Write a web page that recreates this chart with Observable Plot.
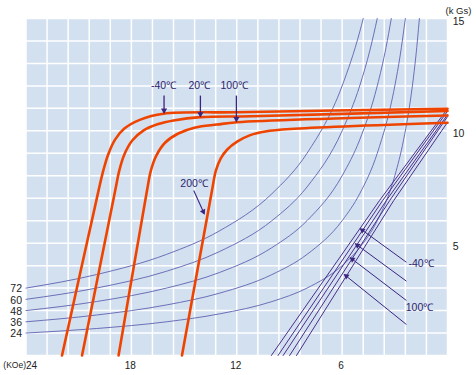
<!DOCTYPE html>
<html><head><meta charset="utf-8">
<script src="https://cdn.jsdelivr.net/npm/d3@7"></script>
<script src="https://cdn.jsdelivr.net/npm/@observablehq/plot@0.6"></script>
<style>body{margin:0;background:#fff} svg{display:block}</style>
</head><body><div id="chart"></div>
<script>
// Demagnetization curves (H in kOe, B in kGs)
const tempLabels = ["-40℃", "20℃", "100℃", "200℃"];
const redM40H = [21.95, 19.87, 19.60, 19.32, 18.92, 18.40, 17.49, 16.17, 12.02, 0];
const redM40B = [0, 7.34, 8.23, 8.95, 9.62, 10.10, 10.50, 10.76, 10.83, 10.98];
const red20H = [20.81, 18.92, 18.69, 18.40, 17.95, 17.32, 16.47, 15.60, 14.07, 11.2, 0];
const red20B = [0, 7.34, 8.23, 8.95, 9.57, 10.01, 10.30, 10.46, 10.61, 10.65, 10.88];
const red100H = [18.73, 17.11, 16.89, 16.58, 16.07, 15.33, 14.36, 13.12, 11.98, 0];
const red100B = [0, 7.34, 8.23, 8.90, 9.48, 9.88, 10.15, 10.28, 10.38, 10.68];
const red200H = [15.12, 13.41, 13.19, 12.91, 12.54, 11.98, 11.23, 10.37, 8.95, 0];
const red200B = [0, 7.34, 8.23, 8.77, 9.17, 9.52, 9.81, 9.97, 10.08, 10.36];

// Straight normal lines near the right
const lineKeys = ["a", "b", "c", "d", "e"];
const lineHc = [10.03, 9.65, 9.36, 8.99, 8.6];
const lineHmid = [3.87, 3.69, 3.48, 3.29, 3.06];
const lineBmid = [6.9, 6.9, 6.9, 6.9, 6.9];
const lineBr = [10.98, 10.87, 10.72, 10.63, 10.38];

// Constant energy-product curves (labels 72..24)
const energyLabels = [72, 60, 48, 36, 24];
const e72H = [24, 20, 16, 13, 10, 8, 6, 5, 4.8];
const e72B = [3, 3.6, 4.5, 5.54, 7.2, 9, 12, 14.4, 15];
const e60H = [24, 20, 16, 13, 10, 8, 6, 5, 4.4, 4];
const e60B = [2.5, 3, 3.75, 4.62, 6, 7.5, 10, 12, 13.64, 15];
const e48H = [24, 20, 16, 13, 10, 8, 6, 5, 4, 3.5, 3.2];
const e48B = [2, 2.4, 3, 3.69, 4.8, 6, 8, 9.6, 12, 13.71, 15];
const e36H = [24, 20, 16, 13, 10, 8, 6, 5, 4, 3, 2.7, 2.4];
const e36B = [1.5, 1.8, 2.25, 2.77, 3.6, 4.5, 6, 7.2, 9, 12, 13.33, 15];
const e24H = [24, 20, 16, 13, 10, 8, 6, 5, 4, 3, 2.5, 2, 1.8, 1.6];
const e24B = [1, 1.2, 1.5, 1.85, 2.4, 3, 4, 4.8, 6, 8, 9.6, 12, 13.33, 15];

// Ticks
const xGridTicks = [0, 1.2, 2.4, 3.6, 4.8, 6, 7.2, 8.4, 9.6, 10.8, 12, 13.2, 14.4, 15.6, 16.8, 18, 19.2, 20.4, 21.6, 22.8, 24];
const yGridTicks = [0, 1, 2, 3, 4, 5, 6, 7, 8, 9, 10, 11, 12, 13, 14, 15];
const xTickLabels = [18, 12, 6];
const yTickLabels = [15, 10, 5];

// Annotations (arrow tail/tip in data coords)
const topArrowLabels = ["-40℃", "20℃", "100℃"];
const topArrowH = [16.14, 14.07, 12.02];
const topArrowB1 = [11.57, 11.57, 11.57];
const topArrowB2 = [10.8, 10.64, 10.42];
const topLabelH = [16.17, 14.13, 12.14];
const topLabelB = [12.02, 12.02, 12.02];

const rightArrowH1 = [2.34, 2.34, 2.34, 2.34];
const rightArrowB1 = [4.15, 3.31, 2.45, 1.38];
const rightArrowH2 = [4.96, 5.24, 5.53, 5.87];
const rightArrowB2 = [5.64, 4.97, 4.35, 3.60];
const rightLabels = ["-40℃", "100℃"];
const rightLabelH = [2.22, 2.38];
const rightLabelB = [4.08, 2.12];

// Build rows
const mk = (Hs, Bs, key) => Hs.map((h, i) => ({H: h, B: Bs[i], k: key}));
const redRows = [
  ...mk(redM40H, redM40B, tempLabels[0]),
  ...mk(red20H, red20B, tempLabels[1]),
  ...mk(red100H, red100B, tempLabels[2]),
  ...mk(red200H, red200B, tempLabels[3])
];
const energyRows = [
  ...mk(e72H, e72B, 72), ...mk(e60H, e60B, 60), ...mk(e48H, e48B, 48),
  ...mk(e36H, e36B, 36), ...mk(e24H, e24B, 24)
];
const lineRows = lineKeys.flatMap((k, i) => [
  {H: lineHc[i], B: 0, k}, {H: lineHmid[i], B: lineBmid[i], k}, {H: 0, B: lineBr[i], k}
]);
const energyLabelRows = energyLabels.map((c, i) => ({c, H: [e72H, e60H, e48H, e36H, e24H][i][0], B: [e72B, e60B, e48B, e36B, e24B][i][0]}));
const topArrows = topArrowLabels.map((t, i) => ({t, H1: topArrowH[i], B1: topArrowB1[i], H2: topArrowH[i], B2: topArrowB2[i], LH: topLabelH[i], LB: topLabelB[i]}));
const rightArrows = rightArrowH1.map((h, i) => ({H1: h, B1: rightArrowB1[i], H2: rightArrowH2[i], B2: rightArrowB2[i]}));
const rightLabelRows = rightLabels.map((t, i) => ({t, H: rightLabelH[i], B: rightLabelB[i]}));
const label200 = [{t: tempLabels[3], H1: 14.45, B1: 7.34, H2: 13.85, B2: 6.31, LH: 14.43, LB: 7.64}];

const purple = "#3b2580";
const textPurple = "#2e1f6e";

const chart = Plot.plot({
  width: 476, height: 375,
  marginLeft: 25.5, marginRight: 29, marginTop: 18, marginBottom: 20,
  x: {domain: [24, 0], axis: null},
  y: {domain: [0, 15], axis: null},
  style: {fontFamily: "'Liberation Sans', Arial, sans-serif", fontSize: "10px", background: "white", overflow: "visible"},
  marks: [
    Plot.frame({fill: "#d2e0ef", stroke: null}),
    Plot.ruleX(xGridTicks, {stroke: "white", strokeWidth: 1.5}),
    Plot.ruleY(yGridTicks, {stroke: "white", strokeWidth: 1.5}),
    Plot.line(energyRows, {x: "H", y: "B", z: "k", stroke: "#6c70b8", strokeWidth: 1, curve: "monotone-x"}),
    Plot.line(lineRows, {x: "H", y: "B", z: "k", stroke: "#4b2f8c", strokeWidth: 1}),
    Plot.line(redRows, {x: "H", y: "B", z: "k", stroke: "#ee4400", strokeWidth: 2.6, curve: "catmull-rom"}),
    // top arrows
    Plot.link(topArrows, {x1: "H1", y1: "B1", x2: "H2", y2: "B2", stroke: purple, strokeWidth: 1.3}),
    Plot.dot(topArrows, {x: "H2", y: "B2", symbol: "triangle", r: 2.3, rotate: 180, dy: -2.5, fill: purple, stroke: null}),
    Plot.text(topArrows, {x: "LH", y: "LB", text: "t", fill: textPurple, fontSize: 10.5}),
    Plot.link(label200, {x1: "H1", y1: "B1", x2: "H2", y2: "B2", stroke: purple, strokeWidth: 1.1}),
    Plot.dot(label200, {x: "H2", y: "B2", symbol: "triangle", r: 2.2, rotate: 155, dx: -1, dy: -2.2, fill: purple, stroke: null}),
    Plot.text(label200, {x: "LH", y: "LB", text: "t", fill: textPurple, fontSize: 10.5}),
    // right arrows
    Plot.link(rightArrows, {x1: "H1", y1: "B1", x2: "H2", y2: "B2", stroke: purple, strokeWidth: 1}),
    Plot.dot(rightArrows, {x: "H2", y: "B2", symbol: "triangle", r: 2.2, rotate: -54, dx: 2, dy: 1.5, fill: purple, stroke: null}),
    Plot.text(rightLabelRows, {x: "H", y: "B", text: "t", fill: textPurple, fontSize: 10.5, textAnchor: "start"}),
    // energy curve labels
    Plot.text(energyLabelRows, {x: "H", y: "B", text: d => String(d.c), dx: -4, dy: 1, textAnchor: "end", fill: "#222", fontSize: 10.5}),
    // axis labels
    Plot.text(xTickLabels, {x: d => d, y: -0.45, text: d => String(d), fill: "#222", dx: -1}),
    Plot.text([24], {x: d => d, y: -0.45, text: d => String(d), fill: "#222", textAnchor: "start"}),
    Plot.text(["(KOe)"], {x: 24, y: -0.45, text: d => d, fill: "#222", textAnchor: "end", fontSize: 8.5}),
    Plot.text(yTickLabels, {x: -0.3, y: d => d, text: d => String(d), fill: "#222", textAnchor: "start", dy: 3, fontSize: 10.5}),
    Plot.text(["(k Gs)"], {x: 0.11, y: 15.35, text: d => d, fill: "#222", textAnchor: "start", fontSize: 9.5})
  ]
});
document.getElementById("chart").appendChild(chart);
</script>
</body></html>
